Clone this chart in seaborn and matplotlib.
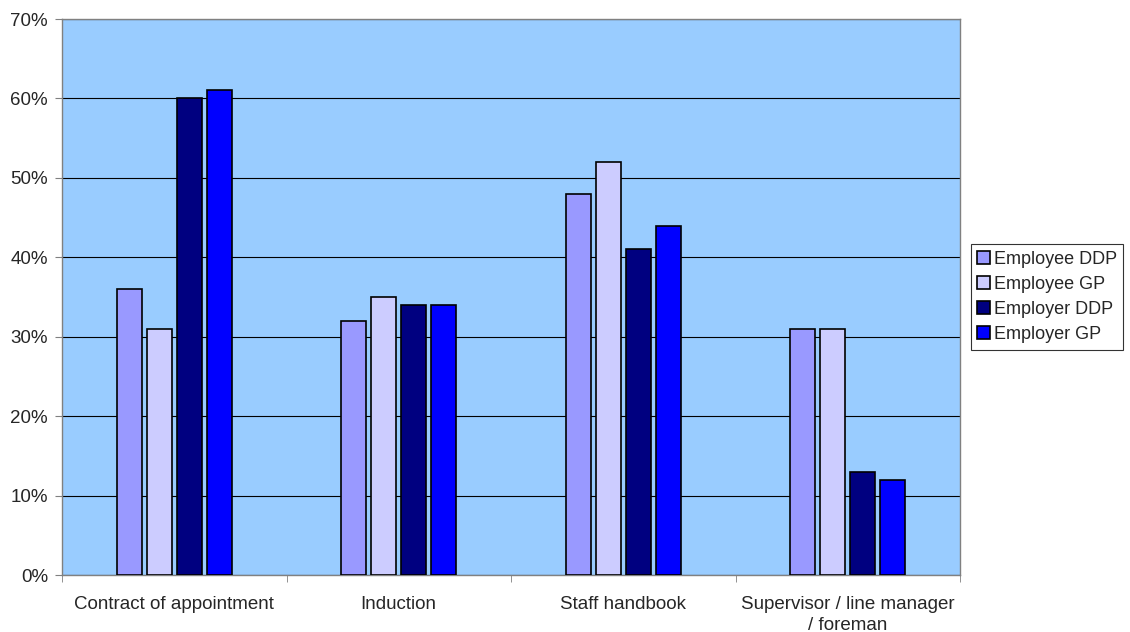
import matplotlib
matplotlib.use("Agg")
import matplotlib.pyplot as plt
import seaborn as sns
import pandas as pd
import numpy as np
from matplotlib.ticker import PercentFormatter, FixedLocator

categories = ["Contract of appointment", "Induction", "Staff handbook",
              "Supervisor / line manager\n/ foreman"]
series = ["Employee DDP", "Employee GP", "Employer DDP", "Employer GP"]
employee_ddp = [36, 32, 48, 31]
employee_gp = [31, 35, 52, 31]
employer_ddp = [60, 34, 41, 13]
employer_gp = [61, 34, 44, 12]
colors = ["#9999FF", "#CCCCFF", "#000080", "#0000FF"]

rows = []
for name, vals in zip(series, [employee_ddp, employee_gp, employer_ddp, employer_gp]):
    for cat, v in zip(categories, vals):
        rows.append({"category": cat, "series": name, "value": v})
df = pd.DataFrame(rows)

sns.set_style("white")
plt.rcParams["font.family"] = ["Liberation Sans", "DejaVu Sans"]

fig = plt.figure(figsize=(11.3, 6.32), dpi=100)
ax = fig.add_axes([62 / 1130, 1 - 575 / 632, (960 - 62) / 1130, (575 - 19) / 632])
ax.set_facecolor("#99CCFF")

sns.barplot(data=df, x="category", y="value", hue="series", order=categories,
            hue_order=series, palette=colors, width=0.536, gap=0.17,
            edgecolor="black", linewidth=1.2, saturation=1, ax=ax, zorder=3)

ax.set_ylim(0, 70)
ax.set_xlim(-0.5, len(categories) - 0.5)
ax.yaxis.set_major_locator(FixedLocator(np.arange(0, 71, 10)))
ax.yaxis.set_major_formatter(PercentFormatter(decimals=0))
ax.grid(axis="y", color="black", linewidth=0.8, zorder=1)
ax.set_axisbelow(True)

ax.set_xlabel("")
ax.set_ylabel("")
ax.tick_params(axis="x", which="major", length=0, pad=15, labelsize=13.5)
ax.xaxis.set_minor_locator(FixedLocator(np.arange(-0.5, len(categories), 1.0)))
ax.tick_params(axis="x", which="minor", length=5, color="#808080", direction="out", bottom=True)
ax.tick_params(axis="y", length=5, color="#808080", direction="out", left=True, labelsize=13.5, pad=5)
for t in ax.get_xticklabels():
    t.set_ha("center")
    t.set_multialignment("center")
    t.set_linespacing(1.3)

for side in ["top", "right", "left", "bottom"]:
    ax.spines[side].set_visible(True)
    ax.spines[side].set_color("#808080")
    ax.spines[side].set_linewidth(1.0)

ax.legend(loc="center left", bbox_to_anchor=(971 / 1130, 1 - 297 / 632), bbox_transform=fig.transFigure,
          frameon=True, fancybox=False, edgecolor="black", fontsize=13,
          handlelength=0.72, handleheight=0.72, handletextpad=0.2,
          borderpad=0.35, labelspacing=0.45, borderaxespad=0)
leg = ax.get_legend()
leg.get_frame().set_linewidth(0.8)

fig.savefig("out.png", dpi=100, facecolor="white")
